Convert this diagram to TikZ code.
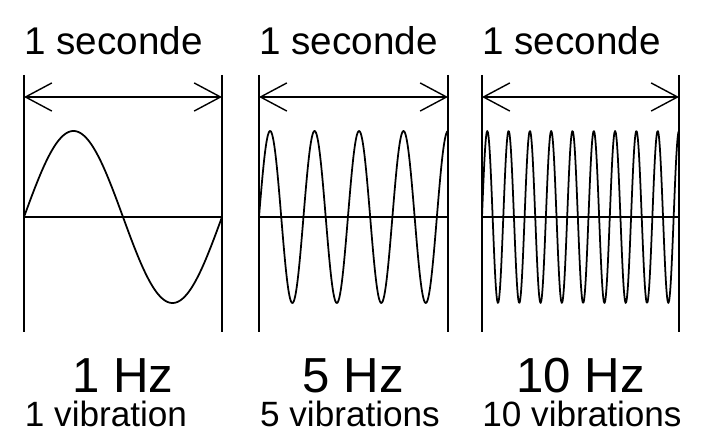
\documentclass[tikz,border=0pt]{standalone}
\usepackage{fontspec}
\setmainfont{Liberation Sans}
\usetikzlibrary{arrows.meta}

\tikzset{
    frame/.style={black, line width=0.8pt},
    wave/.style={black, line width=1pt, line join=round},
    span/.style={black, line width=0.8pt,
        {Straight Barb[length=15pt,width=16pt]}-{Straight Barb[length=15pt,width=16pt]}},
    title/.style={font=\fontsize{22}{26}\selectfont, inner sep=0pt, anchor=base west},
    freq/.style={font=\fontsize{28}{32}\selectfont, inner sep=0pt, anchor=base},
    count/.style={font=\fontsize{20}{24}\selectfont, inner sep=0pt, anchor=base}
}

\begin{document}
\begin{tikzpicture}[x=0.02cm, y=-0.02cm]
    \useasboundingbox (0,0) rectangle (701,435);
    % one panel per frequency: left/right edge, cycles in the second
    \foreach \l/\r/\c/\hz/\vib/\vx/\i in {24/222/1/1 Hz/1 vibration/106/a,
        259/448/4.25/5 Hz/5 vibrations/350/b,
        482/679/9.25/10 Hz/10 vibrations/582/c} {
        \node[title] (sec\i) at (\l,55) {1 seconde};
        \coordinate (tl\i) at (\l,75);
        \coordinate (bl\i) at (\l,332);
        \coordinate (tr\i) at (\r,75);
        \coordinate (br\i) at (\r,332);
        \coordinate (al\i) at (\l,97);
        \coordinate (ar\i) at (\r,97);
        \coordinate (xl\i) at (\l,217);
        \coordinate (xr\i) at (\r,217);
        \draw[frame] (tl\i) -- (bl\i);
        \draw[frame] (tr\i) -- (br\i);
        \draw[span] (al\i) -- (ar\i);
        \draw[frame] (xl\i) -- (xr\i);
        \pgfmathsetmacro{\k}{360*\c/(\r-\l)}
        \draw[wave] plot[domain=\l:\r, samples=300, smooth]
            (\x, {217 - 86*sin(\k*(\x-\l))});
        \node[freq] (hz\i) at ({(\l+\r)/2},393) {\hz};
        \node[count] (vib\i) at (\vx,427) {\vib};
    }
\end{tikzpicture}
\end{document}
